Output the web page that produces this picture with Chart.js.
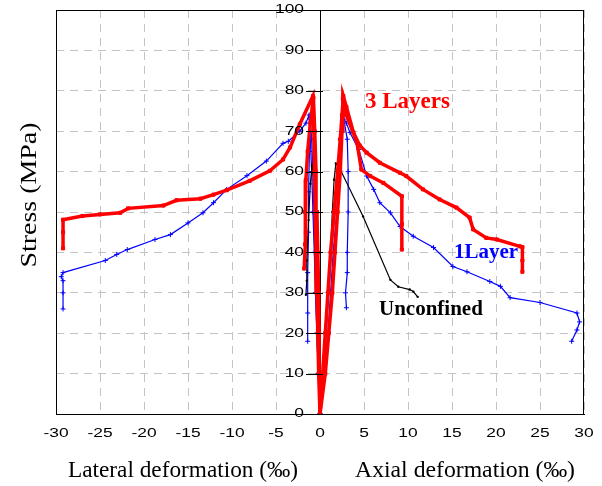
<!DOCTYPE html>
<html>
<head>
<meta charset="utf-8">
<title>Stress vs deformation</title>
<script src="https://cdn.jsdelivr.net/npm/chart.js@4.4.1/dist/chart.umd.min.js"></script>
<style>
  html, body { margin: 0; padding: 0; background: #fff; }
  #wrap { width: 602px; height: 486px; position: relative; }
</style>
</head>
<body>
<div id="wrap"><canvas id="stressChart"></canvas></div>
<script>
// Tick labels
const xTicks = [-30, -25, -20, -15, -10, -5, 0, 5, 10, 15, 20, 25, 30];
const yTicks = [0, 10, 20, 30, 40, 50, 60, 70, 80, 90, 100];

// 3 Layers - lateral (two specimens)
const lat3A_x = [0, -0.15, -0.25, -0.35, -0.45, -0.55, -0.62, -0.7, -0.8, -2.3, -3.4, -4.2, -5.7, -8, -10.6, -12.1, -13.6, -16.3, -17.8, -21.8, -22.7, -25, -27, -29.2, -29.2, -29.2];
const lat3A_y = [0, 10, 20, 30, 40, 50, 60, 70, 78.7, 71.7, 66, 63, 60.2, 57.7, 55.4, 54.3, 53.3, 52.9, 51.6, 50.9, 49.8, 49.4, 49, 48.1, 45, 41];
const lat3B_x = [0, -0.05, -0.1, -0.15, -0.25, -0.35, -0.45, -0.6, -0.75, -1.1, -1.4, -1.6, -1.7, -1.6, -1.7, -1.8];
const lat3B_y = [0, 10, 20, 30, 40, 50, 60, 70, 78.3, 72, 65, 58, 50, 45, 42, 36];
// 3 Layers - axial
const ax3A_x = [0, 0.3, 0.6, 0.9, 1.2, 1.6, 2.0, 2.3, 2.5, 2.65, 3.0, 3.8, 4.5, 5.3, 6.8, 9.1, 9.8, 11.7, 13.6, 15.5, 17.0, 17.4, 18.9, 20.1, 22.7, 23, 23, 23];
const ax3A_y = [0, 10, 20, 30, 40, 50, 60, 68, 74, 78.7, 76, 69.7, 66.5, 64.7, 62.2, 59.7, 58.9, 55.6, 53.1, 51.1, 48.6, 45.7, 43.6, 43.2, 41.5, 41.3, 38, 35.2];
const ax3B_x = [0, 0.6, 1.0, 1.4, 1.7, 2.0, 2.3, 2.5, 2.6, 3.0, 4.2, 4.7, 5.7, 7.2, 9.3, 9.3, 9.3];
const ax3B_y = [0, 10, 20, 30, 40, 50, 60, 70, 78, 74, 67.2, 60.5, 58.9, 57.2, 53.9, 47, 40.7];

// 1 Layer - lateral
const lat1A_x = [0, -0.2, -0.35, -0.5, -0.65, -0.8, -0.95, -1.1, -1.25, -1.6, -2.3, -3.6, -4.2, -6.1, -8.3, -10.6, -12.1, -13.3, -15, -17, -18.75, -21.9, -23.1, -24.4, -29.2, -29.4, -29.2, -29.2, -29.2];
const lat1A_y = [0, 10, 20, 30, 40, 50, 60, 68, 74, 72, 70, 67.5, 67, 62.6, 59, 55.6, 52.3, 49.8, 47.3, 44.4, 43.2, 40.7, 39.5, 38, 35, 34, 33, 30, 26];
const lat1B_x = [0, -0.2, -0.35, -0.5, -0.6, -0.7, -0.8, -0.95, -1.1, -1.2, -1.3, -1.3, -1.4, -1.4, -1.4];
const lat1B_y = [0, 10, 20, 30, 40, 50, 60, 68, 73, 65, 55, 45, 35, 25, 18];
// 1 Layer - axial
const ax1A_x = [0, 0.4, 0.7, 1.0, 1.3, 1.7, 2.0, 2.3, 2.6, 3.0, 3.4, 4.4, 5.3, 6.1, 6.8, 8.0, 9.1, 10.6, 12.9, 15.1, 16.7, 19.3, 20.5, 21.6, 25, 29.2, 29.5, 29.2, 28.6];
const ax1A_y = [0, 10, 20, 30, 40, 50, 60, 68, 73.7, 72, 69.7, 65.5, 58.9, 55.6, 52.3, 49.8, 46.4, 44, 41.2, 36.5, 35.2, 32.8, 31.6, 28.8, 27.6, 25, 22.8, 20.8, 18];
const ax1B_x = [0, 0.5, 0.9, 1.2, 1.5, 1.9, 2.2, 2.5, 2.7, 3.1, 3.2, 3.2, 3.1, 3.1, 2.9, 3.0];
const ax1B_y = [0, 10, 20, 30, 40, 50, 60, 70, 73, 68, 60, 50, 40, 35, 30, 26.3];

// Unconfined
const latU_x = [0, -0.1, -0.2, -0.3, -0.4, -0.5, -0.7, -0.9, -1.1, -1.3, -1.5, -1.5, -1.6];
const latU_y = [0, 10, 20, 30, 40, 50, 58, 61.5, 57, 48, 38, 33, 29.5];
const axU_x = [0, 0.3, 0.6, 0.9, 1.2, 1.4, 1.6, 1.8, 2.3, 4.9, 8.0, 8.9, 10.2, 10.6, 11.1];
const axU_y = [0, 10, 20, 30, 40, 50, 58, 62, 60.5, 48.9, 33.2, 31.5, 30.8, 30.3, 29];

const RED = '#ff0000';
const BLUE = '#0000ff';
const SERIF = '"Liberation Serif", "Times New Roman", serif';
const SANS = '"Liberation Sans", Arial, sans-serif';

function pts(xs, ys) {
  return xs.map((x, i) => ({ x: x, y: ys[i] }));
}

function redSet(label, xs, ys) {
  return {
    label: label, data: pts(xs, ys), showLine: true,
    borderColor: RED, backgroundColor: RED, borderWidth: 3.5,
    pointStyle: 'rect', pointRadius: 2.2, pointBorderWidth: 1
  };
}

function blueSet(label, xs, ys) {
  return {
    label: label, data: pts(xs, ys), showLine: true,
    borderColor: BLUE, backgroundColor: BLUE, borderWidth: 1.2,
    pointStyle: 'cross', pointRadius: 2.5, pointBorderWidth: 1
  };
}

function blackSet(label, xs, ys) {
  return {
    label: label, data: pts(xs, ys), showLine: true,
    borderColor: '#000', backgroundColor: '#000', borderWidth: 1.2,
    pointRadius: 1.2, pointBorderWidth: 0
  };
}

// draw text squeezed/stretched to a given width (the original figure is not uniformly scaled)
function fitText(ctx, text, cx, cy, width, font, rot) {
  ctx.save();
  ctx.font = font;
  const w = ctx.measureText(text).width;
  ctx.translate(cx, cy);
  if (rot) ctx.rotate(rot);
  ctx.scale(width / w, 1);
  ctx.textAlign = 'center';
  ctx.fillText(text, 0, 0);
  ctx.restore();
}

function wideText(ctx, text, x, y, align, sx) {
  ctx.save();
  ctx.translate(x, y);
  ctx.scale(sx, 1);
  ctx.textAlign = align;
  ctx.textBaseline = 'middle';
  ctx.fillText(text, 0, 0);
  ctx.restore();
}

// Frame, tick labels, axis titles and curve labels
const decorations = {
  id: 'decorations',
  afterDraw(chart) {
    const ctx = chart.ctx;
    const a = chart.chartArea;
    const xs = chart.scales.x;
    const ys = chart.scales.y;
    const x0 = xs.getPixelForValue(0);
    ctx.save();
    ctx.strokeStyle = '#000';
    ctx.lineWidth = 1;
    ctx.strokeRect(a.left + 0.5, a.top + 0.5, a.right - a.left - 1, a.bottom - a.top);

    // y ticks crossing the central axis
    ctx.beginPath();
    yTicks.forEach(v => {
      const py = Math.round(ys.getPixelForValue(v)) + 0.5;
      ctx.moveTo(x0 - 14, py);
      ctx.lineTo(x0 + 3, py);
    });
    ctx.stroke();

    ctx.fillStyle = '#000';
    ctx.font = '12px ' + SANS;
    yTicks.forEach(v => {
      wideText(ctx, String(v), x0 - 16, ys.getPixelForValue(v), 'right', 1.45);
    });
    xTicks.forEach(v => {
      wideText(ctx, String(v), xs.getPixelForValue(v), a.bottom + 20, 'center', 1.45);
    });

    ctx.textBaseline = 'alphabetic';
    fitText(ctx, 'Lateral deformation (‰)', 183, 477, 230, '24px ' + SERIF, 0);
    fitText(ctx, 'Axial deformation (‰)', 465, 477, 220, '24px ' + SERIF, 0);
    fitText(ctx, 'Stress (MPa)', 36, 195, 145, '24px ' + SERIF, -Math.PI / 2);

    ctx.textAlign = 'left';
    ctx.font = 'bold 23px ' + SERIF;
    ctx.fillStyle = RED;
    ctx.fillText('3 Layers', 365, 108);
    ctx.font = 'bold 21px ' + SERIF;
    ctx.fillStyle = BLUE;
    ctx.fillText('1Layer', 454, 258);
    ctx.fillStyle = '#000';
    ctx.fillText('Unconfined', 379, 315);
    ctx.restore();
  }
};

const ctx = document.getElementById('stressChart').getContext('2d');
const stressChart = new Chart(ctx, {
  type: 'scatter',
  data: {
    datasets: [
      redSet('3 Layers lateral A', lat3A_x, lat3A_y),
      redSet('3 Layers lateral B', lat3B_x, lat3B_y),
      redSet('3 Layers axial A', ax3A_x, ax3A_y),
      redSet('3 Layers axial B', ax3B_x, ax3B_y),
      blackSet('Unconfined lateral', latU_x, latU_y),
      blackSet('Unconfined axial', axU_x, axU_y),
      blueSet('1Layer lateral A', lat1A_x, lat1A_y),
      blueSet('1Layer lateral B', lat1B_x, lat1B_y),
      blueSet('1Layer axial A', ax1A_x, ax1A_y),
      blueSet('1Layer axial B', ax1B_x, ax1B_y)
    ]
  },
  options: {
    responsive: true,
    maintainAspectRatio: false,
    animation: false,
    layout: { padding: { left: 56, right: 18, top: 10, bottom: 0 } },
    plugins: {
      legend: { display: false },
      tooltip: { enabled: false }
    },
    scales: {
      x: {
        type: 'linear',
        position: 'bottom',
        min: xTicks[0],
        max: xTicks[xTicks.length - 1],
        afterBuildTicks: (scale) => { scale.ticks = xTicks.map(v => ({ value: v })); },
        afterFit: (scale) => { scale.height = 72; },
        grid: { color: '#c4c4c4', lineWidth: 1, drawTicks: false },
        border: { color: '#000', width: 1, dash: [8, 6] },
        ticks: { display: false }
      },
      y: {
        type: 'linear',
        position: { x: 0 },
        min: yTicks[0],
        max: yTicks[yTicks.length - 1],
        afterBuildTicks: (scale) => { scale.ticks = yTicks.map(v => ({ value: v })); },
        grid: { color: '#c4c4c4', lineWidth: 1, drawTicks: false },
        border: { color: '#000', width: 1, dash: [8, 6] },
        ticks: { display: false }
      }
    }
  },
  plugins: [decorations]
});
</script>
</body>
</html>
